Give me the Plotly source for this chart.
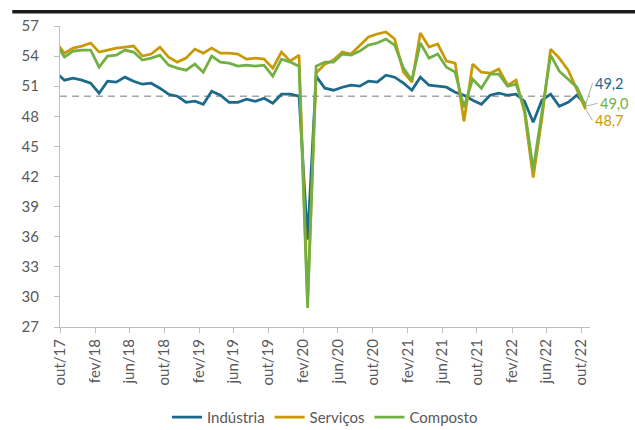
import pandas as pd
import plotly.graph_objects as go

# Monthly data, set/17 .. out/22
months = pd.date_range("2017-09-01", "2022-10-01", freq="MS")

industria = [52.4, 51.6, 51.8, 51.6,
             51.3, 50.3, 51.5, 51.4, 51.9, 51.5, 51.2, 51.3, 50.8, 50.2, 50.0, 49.4,
             49.5, 49.2, 50.5, 50.1, 49.4, 49.4, 49.7, 49.5, 49.8, 49.3, 50.2, 50.2,
             50.0, 35.7, 52.0, 50.8, 50.6, 50.9, 51.1, 51.0, 51.5, 51.4, 52.1, 51.9,
             51.3, 50.6, 51.9, 51.1, 51.0, 50.9, 50.4, 50.1, 49.6, 49.2, 50.1, 50.3,
             50.1, 50.2, 49.5, 47.4, 49.6, 50.2, 49.0, 49.4, 50.1, 49.2]

servicos = [55.4, 54.3, 54.8, 55.0,
            55.3, 54.4, 54.6, 54.8, 54.9, 55.0, 54.0, 54.2, 54.9, 53.9, 53.4, 53.8,
            54.7, 54.3, 54.8, 54.3, 54.3, 54.2, 53.7, 53.8, 53.7, 52.8, 54.4, 53.5,
            54.1, 29.6, 52.3, 53.2, 53.6, 54.4, 54.2, 55.1, 55.9, 56.2, 56.4, 55.7,
            52.4, 51.4, 56.3, 54.9, 55.2, 53.5, 53.3, 47.5, 53.2, 52.4, 52.3, 52.7,
            51.1, 51.6, 48.4, 41.9, 47.8, 54.7, 53.8, 52.6, 50.6, 48.7]

composto = [55.3, 53.9, 54.5, 54.6,
            54.6, 52.9, 54.0, 54.1, 54.6, 54.4, 53.6, 53.8, 54.1, 53.1, 52.8, 52.6,
            53.2, 52.4, 54.0, 53.4, 53.3, 53.0, 53.1, 53.0, 53.1, 52.0, 53.7, 53.4,
            53.0, 28.9, 53.0, 53.4, 53.4, 54.2, 54.1, 54.5, 55.1, 55.3, 55.7, 55.1,
            52.8, 51.6, 55.3, 53.8, 54.2, 52.9, 52.4, 48.9, 51.7, 50.8, 52.2, 52.2,
            51.0, 51.2, 48.8, 42.7, 48.4, 54.1, 52.5, 51.7, 50.9, 49.0]

series_names = ["Indústria", "Serviços", "Composto"]
series_colors = ["#1B6A8C", "#C99A06", "#72B043"]

tick_dates = pd.date_range("2017-10-01", "2022-10-01", freq="4MS")
pt_months = {1: "jan", 2: "fev", 3: "mar", 4: "abr", 5: "mai", 6: "jun",
             7: "jul", 8: "ago", 9: "set", 10: "out", 11: "nov", 12: "dez"}
tick_text = [f"{pt_months[d.month]}/{d.strftime('%y')}" for d in tick_dates]

REF_LINE = 50
Y_TICKS = list(range(27, 58, 3))

fig = go.Figure()
for name, vals, col in zip(series_names, [industria, servicos, composto], series_colors):
    fig.add_trace(go.Scatter(
        x=months, y=vals, name=name, mode="lines",
        xperiod="M1", xperiodalignment="middle",
        line=dict(color=col, width=2.75),
        hoverinfo="skip",
    ))

# reference line at 50
fig.add_shape(type="line", xref="paper", x0=0, x1=1, yref="y", y0=REF_LINE, y1=REF_LINE,
              line=dict(color="#A6A6A6", width=1.5, dash="7px,5px"), layer="below")

# top black rule
fig.add_shape(type="line", xref="paper", x0=-0.09, x1=1.09, yref="paper", y0=1.047, y1=1.047,
              line=dict(color="#1A1A1A", width=3.5))

# end labels
last = months[-1]
mid_last = last + (last + pd.offsets.MonthBegin(1) - last) / 2
label_specs = [(industria, series_colors[0], 7, -21),
               (composto, series_colors[2], 12, -3),
               (servicos, series_colors[1], 7, 11)]
for vals, col, ax, ay in label_specs:
    v = vals[-1]
    fig.add_annotation(x=mid_last, y=v, xref="x", yref="y",
                       text=f"{v:.1f}".replace(".", ","),
                       showarrow=True, arrowhead=0, arrowwidth=1, arrowcolor="#B0B0B0",
                       ax=ax, ay=ay, xanchor="left", yanchor="middle",
                       font=dict(color=col, size=14.5, family="Lato"))

fig.update_layout(
    width=635, height=430,
    margin=dict(l=60, r=45, t=26, b=103, autoexpand=False),
    paper_bgcolor="white", plot_bgcolor="white",
    font=dict(family="Lato", size=15, color="#595959"),
    showlegend=True,
    legend=dict(orientation="h", x=0.5, xanchor="center", y=-0.30, yanchor="middle",
                font=dict(size=15, color="#595959"), itemwidth=30),
    hovermode=False,
    xaxis=dict(type="date", range=["2017-10-01", "2022-11-01"], automargin=False,
               tickmode="array", tickvals=tick_dates, ticktext=tick_text, tickangle=-90,
               ticks="outside", ticklen=5, tickcolor="#BFBFBF",
               showline=True, linecolor="#BFBFBF", linewidth=1,
               showgrid=False, zeroline=False),
    yaxis=dict(range=[27, 57], tickmode="array", tickvals=Y_TICKS, automargin=False,
               ticks="outside", ticklen=5, tickcolor="#BFBFBF",
               showline=True, linecolor="#BFBFBF", linewidth=1,
               showgrid=False, zeroline=False, ticklabelstandoff=12),
)

fig.write_html("out.html", config={"displayModeBar": False},
               post_script="document.body.style.margin='0px';document.body.style.overflow='hidden';")
